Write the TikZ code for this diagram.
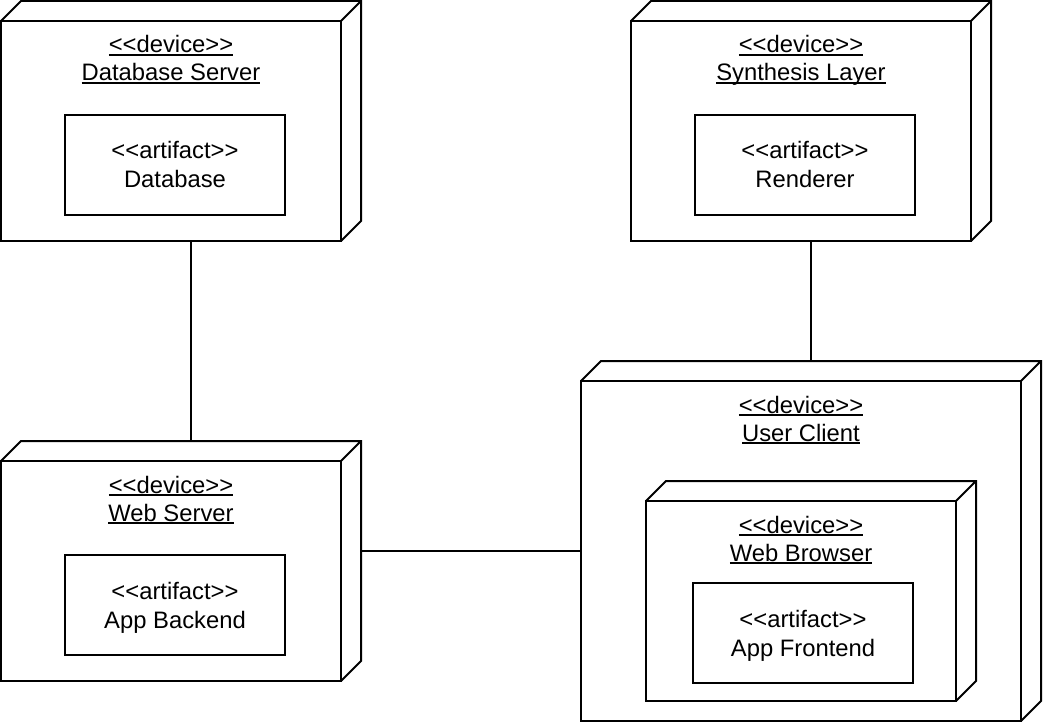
\documentclass[tikz,border=0pt]{standalone}
\usepackage{fontspec}
\setmainfont{Liberation Sans}[Ligatures=TeXOff]
\usetikzlibrary{calc}
\newcommand\ulx[1]{\setbox0\hbox{#1}\rlap{\rule[-3pt]{\wd0}{1.6pt}}\box0}
\tikzset{
  face/.style={draw, line width=2pt, rectangle, inner sep=0pt, outer sep=0pt},
  face3d/.style={line width=2pt, line join=miter},
  artbox/.style={draw, line width=2pt, rectangle, inner sep=0pt, outer sep=0pt,
    minimum width=220pt, minimum height=100pt},
  lbl/.style={anchor=base, inner sep=0pt, font=\fontsize{23.8}{28}\selectfont},
  conn/.style={line width=2pt}
}
\newcommand\devbox[5]{%
  \node[face, minimum width=#4pt, minimum height=#5pt] (#1) at (#2,#3) {};
  \draw[face3d] (#1.north west) -- ++(20,-20) -| ($(#1.south east)+(20,-20)$) -- (#1.south east)
    (#1.north east) -- ++(20,-20);
}
\begin{document}
\begin{tikzpicture}[x=1pt,y=-1pt]
\useasboundingbox (0,0) rectangle (1044,722);

% Database Server
\devbox{dbs}{171}{131}{340}{220}
\node[lbl] (dbsa) at (171,53) {\ulx{<<device>>}};
\node[lbl] (dbsb) at (171,81) {\ulx{Database Server}};
\node[artbox] (dbart) at (175,165) {};
\node[lbl] (dbarta) at (175,159) {<<artifact>>};
\node[lbl] (dbartb) at (175,188) {Database};

% Synthesis Layer
\devbox{syn}{801}{131}{340}{220}
\node[lbl] (syna) at (801,53) {\ulx{<<device>>}};
\node[lbl] (synb) at (801,81) {\ulx{Synthesis Layer}};
\node[artbox] (renart) at (805,165) {};
\node[lbl] (renarta) at (805,159) {<<artifact>>};
\node[lbl] (renartb) at (805,188) {Renderer};

% Web Server
\devbox{ws}{171}{571}{340}{220}
\node[lbl] (wsa) at (171,493) {\ulx{<<device>>}};
\node[lbl] (wsb) at (171,521) {\ulx{Web Server}};
\node[artbox] (beart) at (175,605) {};
\node[lbl] (bearta) at (175,599) {<<artifact>>};
\node[lbl] (beartb) at (175,628) {App Backend};

% User Client
\devbox{uc}{801}{551}{440}{340}
\node[lbl] (uca) at (801,413) {\ulx{<<device>>}};
\node[lbl] (ucb) at (801,441) {\ulx{User Client}};

% Web Browser
\devbox{wb}{801}{601}{310}{200}
\node[lbl] (wba) at (801,533) {\ulx{<<device>>}};
\node[lbl] (wbb) at (801,561) {\ulx{Web Browser}};
\node[artbox] (feart) at (803,633) {};
\node[lbl] (fearta) at (803,627) {<<artifact>>};
\node[lbl] (feartb) at (803,656) {App Frontend};

% connectors
\draw[conn] ([xshift=20pt]dbs.south) -- ([xshift=20pt,yshift=20pt]ws.north);
\draw[conn] ([xshift=10pt]syn.south) -- ([xshift=10pt,yshift=20pt]uc.north);
\draw[conn] ([xshift=20pt]uc.west -| ws.east) -- (uc.west);
\end{tikzpicture}
\end{document}
